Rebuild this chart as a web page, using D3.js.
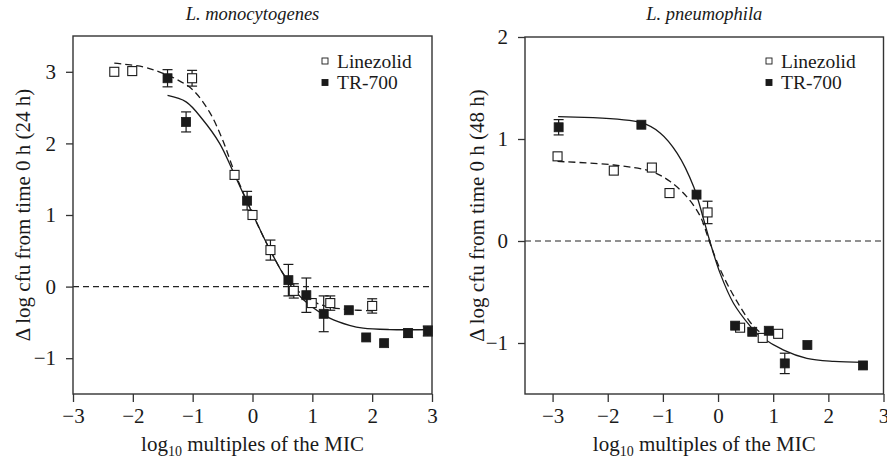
<!DOCTYPE html>
<html>
<head>
<meta charset="utf-8">
<script src="https://cdn.jsdelivr.net/npm/d3@7"></script>
<style>
  html, body { margin: 0; padding: 0; background: #fff; }
  svg { display: block; }
  text { font-family: "Liberation Serif", "Times New Roman", serif; fill: #1a1a1a; }
</style>
</head>
<body>
<svg id="chart" width="887" height="461"></svg>
<script>
// ---------- DATA ----------
const panelTitles = ["L. monocytogenes", "L. pneumophila"];
const yTitles = ["Δ log cfu from time 0 h (24 h)", "Δ log cfu from time 0 h (48 h)"];
const seriesNames = ["Linezolid", "TR-700"];
const xTicks = [-3, -2, -1, 0, 1, 2, 3];
const yTicksLeft = [-1, 0, 1, 2, 3];
const yTicksRight = [-1, 0, 1, 2];

// [x, y, error]
const leftLinezolid = [
  [-2.31, 3.00, 0], [-2.01, 3.01, 0], [-1.01, 2.91, 0.11], [-0.30, 1.56, 0],
  [0.00, 1.00, 0], [0.30, 0.51, 0.14], [0.69, -0.06, 0.10], [0.99, -0.23, 0],
  [1.30, -0.23, 0.10], [2.00, -0.27, 0.10]
];
const leftTR700 = [
  [-1.42, 2.91, 0.12], [-1.11, 2.30, 0.14], [-0.09, 1.20, 0.13], [0.60, 0.09, 0.22],
  [0.90, -0.12, 0.24], [1.19, -0.38, 0.25], [1.61, -0.33, 0], [1.90, -0.71, 0],
  [2.20, -0.79, 0], [2.60, -0.65, 0.06], [2.93, -0.62, 0.07]
];
const rightLinezolid = [
  [-2.91, 0.83, 0], [-1.89, 0.69, 0], [-1.20, 0.72, 0], [-0.88, 0.47, 0],
  [-0.19, 0.28, 0.11], [0.40, -0.85, 0], [0.81, -0.95, 0], [1.09, -0.91, 0]
];
const rightTR700 = [
  [-2.89, 1.115, 0.075], [-1.39, 1.14, 0], [-0.39, 0.455, 0], [0.31, -0.83, 0],
  [0.62, -0.89, 0], [0.92, -0.88, 0], [1.21, -1.20, 0.10], [1.62, -1.02, 0],
  [2.63, -1.22, 0]
];

// fitted curves, points
const leftLinezolidFit = [
  [-2.31, 3.12], [-1.83, 3.07], [-1.56, 3.00], [-1.28, 2.90], [-1.00, 2.75],
  [-0.72, 2.44], [-0.50, 2.05], [-0.31, 1.62], [0.00, 1.02], [0.30, 0.50],
  [0.60, 0.08], [0.90, -0.15], [1.20, -0.27], [1.60, -0.32], [2.00, -0.34]
];
const leftTR700Fit = [
  [-1.42, 2.67], [-1.11, 2.58], [-0.83, 2.33], [-0.55, 2.00], [-0.31, 1.58],
  [0.00, 1.02], [0.30, 0.50], [0.60, 0.06], [0.90, -0.22], [1.29, -0.44],
  [1.62, -0.54], [1.85, -0.58], [2.29, -0.60], [3.00, -0.60]
];
const rightLinezolidFit = [
  [-2.91, 0.78], [-1.89, 0.745], [-1.20, 0.68], [-0.86, 0.58], [-0.56, 0.43],
  [-0.32, 0.24], [-0.16, 0.00], [0.04, -0.28], [0.34, -0.59], [0.65, -0.84],
  [0.85, -0.93]
];
const rightTR700Fit = [
  [-2.90, 1.22], [-1.39, 1.16], [-1.05, 1.06], [-0.74, 0.86], [-0.44, 0.53],
  [-0.26, 0.21], [-0.15, 0.00], [0.04, -0.32], [0.28, -0.61], [0.59, -0.84],
  [0.71, -0.91], [1.19, -1.07], [1.61, -1.15], [2.10, -1.18], [2.63, -1.19]
];

// ---------- LAYOUT ----------
const svg = d3.select("#chart");
const ink = "#1a1a1a";
const fs = 21;

const panels = [
  { xr: [73, 432], yr: [394, 36], xd: [-3, 3], yd: [-1.5, 3.5], yTicks: yTicksLeft,
    lin: leftLinezolid, tr: leftTR700, linFit: leftLinezolidFit, trFit: leftTR700Fit,
    title: panelTitles[0], yTitle: yTitles[0], yTitleX: 23, legendX: 325 },
  { xr: [525, 883.5], yr: [394, 37], xd: [-3.5, 3], yd: [-1.5, 2], yTicks: yTicksRight,
    lin: rightLinezolid, tr: rightTR700, linFit: rightLinezolidFit, trFit: rightTR700Fit,
    title: panelTitles[1], yTitle: yTitles[1], yTitleX: 477, legendX: 769 }
];

panels.forEach(p => {
  const x = d3.scaleLinear().domain(p.xd).range(p.xr);
  const y = d3.scaleLinear().domain(p.yd).range(p.yr);
  const g = svg.append("g");

  // zero reference line
  g.append("line")
    .attr("x1", p.xr[0]).attr("x2", p.xr[1])
    .attr("y1", y(0)).attr("y2", y(0))
    .attr("stroke", "#222").attr("stroke-width", 1.1)
    .attr("stroke-dasharray", "6,4");

  // frame
  g.append("rect")
    .attr("x", p.xr[0]).attr("y", p.yr[1])
    .attr("width", p.xr[1] - p.xr[0]).attr("height", p.yr[0] - p.yr[1])
    .attr("fill", "none").attr("stroke", "#333").attr("stroke-width", 1.4);

  // axes
  const xAxis = g.append("g").attr("transform", `translate(0,${p.yr[0]})`)
    .call(d3.axisBottom(x).tickValues(xTicks).tickSize(8).tickPadding(6).tickFormat(d3.format("d")));
  const yAxis = g.append("g").attr("transform", `translate(${p.xr[0]},0)`)
    .call(d3.axisLeft(y).tickValues(p.yTicks).tickSize(7).tickPadding(10).tickFormat(d3.format("d")));
  [xAxis, yAxis].forEach(a => {
    a.select(".domain").remove();
    a.selectAll("line").attr("stroke", "#333").attr("stroke-width", 1.3);
    a.selectAll("text").attr("font-size", fs).attr("fill", ink)
      .attr("font-family", '"Liberation Serif", serif');
  });

  // fitted curves
  const line = d3.line().x(d => x(d[0])).y(d => y(d[1])).curve(d3.curveCatmullRom.alpha(0.5));
  g.append("path").datum(p.linFit).attr("d", line)
    .attr("fill", "none").attr("stroke", ink).attr("stroke-width", 1.3)
    .attr("stroke-dasharray", "7,4");
  g.append("path").datum(p.trFit).attr("d", line)
    .attr("fill", "none").attr("stroke", ink).attr("stroke-width", 1.3);

  // error bars + markers
  const drawSeries = (data, filled) => {
    const eb = g.append("g");
    data.filter(d => d[2] > 0).forEach(d => {
      const cx = x(d[0]), y1 = y(d[1] + d[2]), y2 = y(d[1] - d[2]);
      eb.append("line").attr("x1", cx).attr("x2", cx).attr("y1", y1).attr("y2", y2)
        .attr("stroke", ink).attr("stroke-width", 1.2);
      [y1, y2].forEach(yy => eb.append("line").attr("x1", cx - 5).attr("x2", cx + 5)
        .attr("y1", yy).attr("y2", yy).attr("stroke", ink).attr("stroke-width", 1.2));
    });
    const s = 9;
    g.append("g").selectAll("rect").data(data).join("rect")
      .attr("x", d => x(d[0]) - s / 2).attr("y", d => y(d[1]) - s / 2)
      .attr("width", s).attr("height", s)
      .attr("fill", filled ? ink : "#fff")
      .attr("stroke", ink).attr("stroke-width", filled ? 0.8 : 1.1);
  };
  drawSeries(p.lin, false);
  drawSeries(p.tr, true);

  // titles
  svg.append("text").attr("x", (p.xr[0] + p.xr[1]) / 2).attr("y", 20)
    .attr("text-anchor", "middle").attr("font-size", 18.5).attr("font-style", "italic")
    .text(p.title);
  svg.append("text")
    .attr("transform", `translate(${p.yTitleX},${(p.yr[0] + p.yr[1]) / 2}) rotate(-90)`)
    .attr("text-anchor", "middle").attr("dominant-baseline", "central")
    .attr("font-size", fs).text(p.yTitle);
  const xt = svg.append("text").attr("x", (p.xr[0] + p.xr[1]) / 2).attr("y", 451)
    .attr("text-anchor", "middle").attr("font-size", fs);
  xt.append("tspan").text("log");
  xt.append("tspan").attr("font-size", 14).attr("dy", 5).text("10");
  xt.append("tspan").attr("dy", -5).text(" multiples of the MIC");

  // legend
  const lg = svg.append("g");
  seriesNames.forEach((name, i) => {
    const cy = 61 + i * 21.5;
    lg.append("rect").attr("x", p.legendX - 3).attr("y", cy - 3).attr("width", 6).attr("height", 6)
      .attr("fill", i === 0 ? "#fff" : ink).attr("stroke", ink).attr("stroke-width", 0.9);
    lg.append("text").attr("x", p.legendX + 12).attr("y", cy + 6.5)
      .attr("font-size", 19.5).text(name);
  });
});
</script>
</body>
</html>
